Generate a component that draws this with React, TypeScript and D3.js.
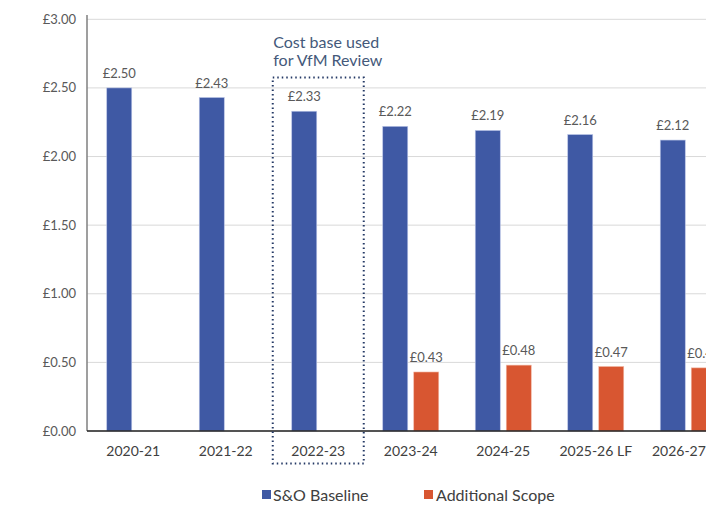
import React from "react";
import * as d3 from "d3";

const categories = ["2020-21", "2021-22", "2022-23", "2023-24", "2024-25", "2025-26 LF", "2026-27 LF"];
const baseline = [2.5, 2.43, 2.33, 2.22, 2.19, 2.16, 2.12];
const additional: (number | null)[] = [null, null, null, 0.43, 0.48, 0.47, 0.46];
const yTicks = [0, 0.5, 1, 1.5, 2, 2.5, 3];
const seriesNames = ["S&O Baseline", "Additional Scope"];
const colors = ["#3F59A4", "#D85631"];
const highlightCategory = "2022-23";
const noteLines = ["Cost base used", "for VfM Review"];

const W = 706;
const H = 506;
const left = 87;
const bandW = 92.5;
const top = 19.3;
const bottom = 431;

export default function App() {
  const x = d3
    .scaleBand<string>()
    .domain(categories)
    .range([left, left + bandW * categories.length])
    .paddingInner(0)
    .paddingOuter(0);
  const y = d3.scaleLinear().domain([0, 3]).range([bottom, top]);
  const barW = 25;
  const gap = 6;
  const fmt = (v: number) => "£" + v.toFixed(2);
  const font = "Lato, 'Open Sans', sans-serif";

  const hx = x(highlightCategory)!;
  const hc = hx + bandW / 2;

  return (
    <svg
      width={W}
      height={H}
      style={{ position: "absolute", left: 0, top: 0, background: "#fff", overflow: "hidden" }}
      fontFamily={font}
    >
      {/* gridlines */}
      {yTicks.map((t) => (
        <line key={"g" + t} x1={left} x2={W} y1={y(t)} y2={y(t)} stroke="#D9D9D9" strokeWidth={1} />
      ))}
      {/* y tick labels */}
      {yTicks.map((t) => (
        <text key={"t" + t} x={76} y={y(t)} dy="0.35em" textAnchor="end" fontSize={13} fill="#595959">
          {fmt(t)}
        </text>
      ))}
      {/* bars */}
      {categories.map((c, i) => {
        const cx = x(c)! + bandW / 2;
        const b = baseline[i];
        const a = additional[i];
        const hasA = a !== null;
        const bx = hasA ? cx - gap / 2 - barW : cx - barW / 2 - 14;
        const ax = cx + gap / 2;
        return (
          <g key={c}>
            <rect x={bx} y={y(b)} width={barW} height={y(0) - y(b)} fill={colors[0]} stroke="#B8C4E6" strokeWidth={0.6} />
            <text x={bx + barW / 2} y={y(b) - 10} textAnchor="middle" fontSize={13} fill="#595959">
              {fmt(b)}
            </text>
            {hasA && (
              <g>
                <rect x={ax} y={y(a as number)} width={barW} height={y(0) - y(a as number)} fill={colors[1]} stroke="#F2B9A6" strokeWidth={0.6} />
                <text x={ax + barW / 2} y={y(a as number) - 10} textAnchor="middle" fontSize={13} fill="#595959">
                  {fmt(a as number)}
                </text>
              </g>
            )}
          </g>
        );
      })}
      {/* axes */}
      <line x1={left} x2={left} y1={15} y2={bottom} stroke="#7F7F7F" strokeWidth={1.5} />
      <line x1={left} x2={W} y1={bottom} y2={bottom} stroke="#222" strokeWidth={1.5} />
      {/* category labels */}
      {categories.map((c) => (
        <text key={"c" + c} x={x(c)! + bandW / 2} y={456} textAnchor="middle" fontSize={14} fill="#404040">
          {c}
        </text>
      ))}
      {/* highlight box */}
      <rect
        x={hc - 45.5}
        y={77.5}
        width={91}
        height={386}
        fill="none"
        stroke="#253A66"
        strokeWidth={2}
        strokeDasharray="1.5 3"
      />
      {noteLines.map((l, i) => (
        <text key={l} x={hc - 45} y={48 + i * 18} fontSize={16} fill="#44597A">
          {l}
        </text>
      ))}
      {/* legend */}
      <g>
        <rect x={262} y={490} width={9} height={9} fill={colors[0]} />
        <text x={273} y={495} dy="0.35em" fontSize={16} fill="#404040">
          {seriesNames[0]}
        </text>
        <rect x={424} y={490} width={9} height={9} fill={colors[1]} />
        <text x={436} y={495} dy="0.35em" fontSize={16} fill="#404040">
          {seriesNames[1]}
        </text>
      </g>
    </svg>
  );
}
